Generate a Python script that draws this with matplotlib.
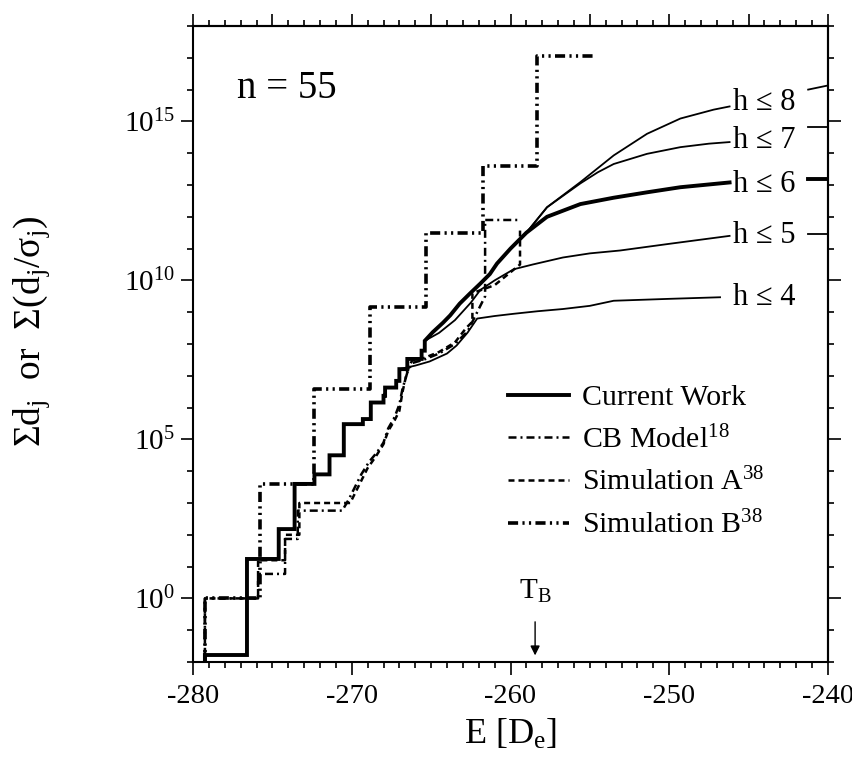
import numpy as np
import matplotlib
matplotlib.use("Agg")
import matplotlib.pyplot as plt
from matplotlib.ticker import FixedLocator, MultipleLocator, NullFormatter, FixedFormatter

plt.rcParams["font.family"] = ["Liberation Serif", "DejaVu Serif"]
plt.rcParams["mathtext.fontset"] = "custom"
plt.rcParams["mathtext.rm"] = "Liberation Serif"
plt.rcParams["mathtext.it"] = "Liberation Serif:italic"
plt.rcParams["mathtext.bf"] = "Liberation Serif:bold"
plt.rcParams["axes.unicode_minus"] = False

# all values are log10 of the sum, E in units of D_e
# current work, thick curve (h <= 6): stepped low-energy part, then smooth part
cw_step_E = [-279.25, -279.25, -276.6, -274.6, -273.6, -272.35, -271.4, -270.5,
             -269.3, -268.8, -268.0, -267.9, -267.2, -267.0, -266.5, -265.6, -265.4]
cw_step_L = [-3.0, -1.78, 1.24, 2.18, 3.6, 3.9, 4.5, 5.48,
             5.64, 6.16, 6.37, 6.63, 6.84, 7.21, 7.53, 7.79, 8.1]
cw_E = [-264.9, -264.25, -263.8, -263.2, -262.55, -261.9, -261.3, -260.85, -260.0,
        -259.0, -257.7, -255.6, -253.5, -251.4, -249.3, -246.2]
cw_L = [8.37, 8.67, 8.9, 9.27, 9.59, 9.9, 10.2, 10.53, 11.0,
        11.5, 12.0, 12.4, 12.6, 12.77, 12.93, 13.08]

# thin branches of the current work
h4_E = [-267.0, -266.0, -265.1, -264.0, -263.4, -262.7, -262.1, -261.0, -259.8,
        -258.3, -256.7, -255.0, -253.5, -250.0, -246.8]
h4_L = [7.21, 7.32, 7.45, 7.7, 7.95, 8.36, 8.8, 8.88, 8.95,
        9.03, 9.1, 9.2, 9.36, 9.42, 9.47]
h5_E = [-265.4, -264.5, -263.5, -262.5, -261.9, -261.0, -259.8, -258.6, -256.7,
        -255.0, -253.1, -250.0, -246.2]
h5_L = [8.1, 8.35, 8.75, 9.3, 9.7, 10.0, 10.35, 10.5, 10.72,
        10.85, 10.94, 11.15, 11.4]
h7_E = [-259.0, -257.7, -255.6, -254.5, -253.5, -251.4, -249.3, -247.5, -246.2]
h7_L = [11.5, 12.3, 13.05, 13.4, 13.66, 13.98, 14.19, 14.3, 14.35]
h8_E = [-259.0, -257.7, -255.6, -253.5, -251.4, -249.3, -247.2, -246.2]
h8_L = [11.5, 12.3, 13.09, 13.93, 14.61, 15.09, 15.37, 15.47]

# bits of the curves that come out to the right of the labels
tail_E = [-241.25, -240.0]
tail_L = {"h8": [16.0, 16.13], "h7": [14.81, 14.81], "h6": [13.2, 13.2], "h5": [11.45, 11.45]}

h_labels = ["h ≤ 8", "h ≤ 7", "h ≤ 6", "h ≤ 5", "h ≤ 4"]
h_label_L = [15.6, 14.4, 13.0, 11.4, 9.47]

# CB model (dash-dot)
cb_step_E = [-279.25, -279.25, -275.9, -274.2, -273.4]
cb_step_L = [-3.0, 0.0, 0.77, 1.87, 2.76]
cb_E = [-270.6, -270.2, -269.8, -269.4, -268.9, -268.4, -268.0, -267.7, -267.3, -267.0,
        -266.8, -266.5, -266.2, -265.5, -264.5, -263.5, -262.7, -262.2, -261.6, -261.6, -259.5]
cb_L = [2.76, 3.1, 3.5, 3.9, 4.3, 4.6, 4.9, 5.35, 5.7, 6.1,
        6.6, 7.1, 7.4, 7.5, 7.7, 8.0, 8.4, 8.9, 9.5, 11.9, 11.9]

# simulation A (dashed)
sa_step_E = [-279.25, -279.25, -275.9, -274.2, -273.3]
sa_step_L = [-3.0, 0.0, 1.2, 2.0, 3.0]
sa_E = [-270.1, -269.8, -269.5, -269.0, -268.5, -268.0, -267.7, -267.3, -267.0, -266.8,
        -266.5, -266.2, -265.5, -264.5, -263.5, -262.8, -262.4, -262.4, -261.0, -259.4, -259.4]
sa_L = [3.0, 3.3, 3.6, 4.1, 4.45, 4.85, 5.27, 5.6, 5.9, 6.5,
        7.16, 7.48, 7.55, 7.75, 8.05, 8.5, 8.7, 9.6, 9.85, 10.5, 11.6]

# simulation B (dash-dot-dot), big steps
sb_E = [-279.25, -279.25, -275.8, -272.35, -268.85, -265.35, -261.75, -258.3, -254.8]
sb_L = [-3.0, 0.0, 3.59, 6.59, 9.15, 11.5, 13.6, 17.07, 17.07]

T_B = -258.45


def stairs(e, v):
    xs, ys = [e[0]], [v[0]]
    for i in range(1, len(e)):
        xs += [e[i], e[i]]
        ys += [v[i - 1], v[i]]
    return xs, ys


def pw(L):
    return 10.0 ** np.asarray(L, dtype=float)


SIMB_LS = (0, (2.8, 1.2, 0.6, 1.2, 0.6, 1.2))
CB_LS = (0, (3.2, 1.6, 0.8, 1.6))
SA_LS = (0, (2.4, 1.6))

fig = plt.figure(figsize=(8.53, 7.82), dpi=100)
ax = fig.add_axes([193 / 853, 1 - 662 / 782, 635 / 853, 636 / 782])
ax.set_yscale("log")

x, y = stairs(sb_E, sb_L)
ax.plot(x, pw(y), color="k", lw=2.6, ls=SIMB_LS, label="Simulation B$^{38}$")

x, y = stairs(cb_step_E, cb_step_L)
ax.plot(x + cb_E, pw(y + cb_L), color="k", lw=1.8, ls=CB_LS, label="CB Model$^{18}$")

x, y = stairs(sa_step_E, sa_step_L)
ax.plot(x + sa_E, pw(y + sa_L), color="k", lw=1.8, ls=SA_LS, label="Simulation A$^{38}$")

x, y = stairs(cw_step_E, cw_step_L)
ax.plot(x + cw_E, pw(y + cw_L), color="k", lw=2.8, solid_joinstyle="miter",
        label="Current Work")
for e, l in [(h4_E, h4_L), (h5_E, h5_L), (h7_E, h7_L), (h8_E, h8_L)]:
    ax.plot(e, pw(l), color="k", lw=1.3)
for k, l in tail_L.items():
    ax.plot(tail_E, pw(l), color="k", lw=2.8 if k == "h6" else 1.3)

for lab, l in zip(h_labels, h_label_L):
    ax.text(-246.0, 10 ** l, lab, fontsize=22, ha="left", va="center")

ax.text(-277.2, 10 ** 16.04, "n = 55", fontsize=28, ha="left", va="center")

ax.annotate("", xy=(T_B, 10 ** -1.88), xytext=(T_B, 10 ** -0.65),
            arrowprops=dict(arrowstyle="-|>", color="k", lw=1.0, mutation_scale=14))
ax.text(T_B, 10 ** 0.0, "T$_\\mathrm{B}$", fontsize=21, ha="center", va="baseline")

ax.set_xlim(-280, -240)
ax.set_ylim(1e-2, 1e18)

ax.xaxis.set_major_locator(FixedLocator([-280, -270, -260, -250, -240]))
ax.xaxis.set_minor_locator(MultipleLocator(1))
ax.yaxis.set_major_locator(FixedLocator([1e0, 1e5, 1e10, 1e15]))
ax.yaxis.set_major_formatter(FixedFormatter(["$10^{0}$", "$10^{5}$", "$10^{10}$", "$10^{15}$"]))
ax.yaxis.set_minor_locator(FixedLocator(10.0 ** np.arange(-2, 19)))
ax.yaxis.set_minor_formatter(NullFormatter())
ax.tick_params(which="both", direction="out", width=1.2, labelsize=21)
ax.tick_params(axis="x", labelsize=20.5)
ax.tick_params(which="major", length=9)
ax.tick_params(which="minor", length=4.5)
ax.tick_params(axis="x", pad=7)
ax.tick_params(axis="y", pad=4)
for s in ax.spines.values():
    s.set_linewidth(1.5)

top = ax.secondary_xaxis("top")
top.xaxis.set_major_locator(MultipleLocator(5))
top.xaxis.set_minor_locator(MultipleLocator(1))
top.xaxis.set_major_formatter(NullFormatter())
top.tick_params(which="both", direction="out", width=1.2)
top.tick_params(which="major", length=9)
top.tick_params(which="minor", length=4.5)
top.spines["top"].set_linewidth(1.5)

right = ax.secondary_yaxis("right")
right.yaxis.set_major_locator(FixedLocator([1e0, 1e5, 1e10, 1e15]))
right.yaxis.set_minor_locator(FixedLocator(10.0 ** np.arange(-2, 19)))
right.yaxis.set_major_formatter(NullFormatter())
right.yaxis.set_minor_formatter(NullFormatter())
right.tick_params(which="both", direction="out", width=1.2)
right.tick_params(which="major", length=9)
right.tick_params(which="minor", length=4.5)
right.spines["right"].set_linewidth(1.5)

ax.set_xlabel("E [D$_\\mathrm{e}$]", fontsize=26, labelpad=6)
ax.set_ylabel("Σd$_\\mathrm{j}$  or  Σ(d$_\\mathrm{j}$/σ$_\\mathrm{j}$)", fontsize=27)
ax.yaxis.set_label_coords(-0.222, 0.52)

h, l = ax.get_legend_handles_labels()
order = [3, 1, 2, 0]
ax.legend([h[i] for i in order], [l[i] for i in order], loc="upper left",
          bbox_to_anchor=(0.496, 0.437), frameon=False, fontsize=21.5,
          handlelength=2.05, handletextpad=0.42, labelspacing=0.48,
          borderpad=0, borderaxespad=0)

fig.savefig("out.png", dpi=100)
